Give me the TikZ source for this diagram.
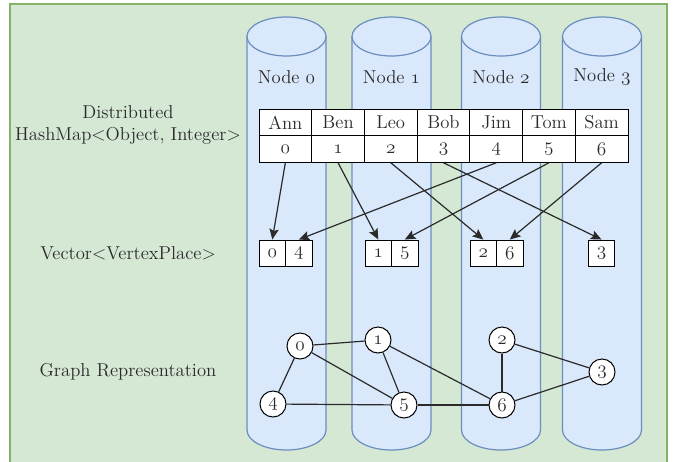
\documentclass[tikz,border=0pt]{standalone}
\usepackage{fontspec}
\usetikzlibrary{arrows.meta}
% old-style digits taken from the math italic font, set a little larger
\newcommand\osn[1]{{\fontsize{15.5}{16.5}\usefont{OML}{lmm}{m}{it}#1}}
\definecolor{panelfill}{HTML}{D5E8D4}
\definecolor{panelline}{HTML}{82B366}
\definecolor{cylfill}{HTML}{DAE8FC}
\definecolor{cylline}{HTML}{6C8EBF}
\definecolor{ink}{HTML}{2A2A2A}
\begin{document}
\begin{tikzpicture}[x=0.75pt,y=-0.75pt,
  every node/.style={font=\fontsize{14}{16.5}\selectfont, text=ink},
  cell/.style={draw=black, fill=white, line width=0.75pt, inner sep=0pt,
    minimum width=39.54pt, minimum height=19.9pt},
  vcell/.style={draw=black, fill=white, line width=0.75pt, inner sep=0pt,
    minimum width=19.9pt, minimum height=20.2pt},
  vert/.style={circle, draw=black, fill=white, line width=0.75pt, inner sep=0pt,
    minimum size=19.5pt},
  link/.style={draw=ink, line width=0.9pt, -{Stealth[length=8pt,width=7pt,inset=1.5pt]}},
  edge/.style={draw=ink, line width=0.9pt},
  cyl/.style={fill=cylfill, draw=cylline, line width=0.9pt}]
\useasboundingbox (0,0) rectangle (678,461);
\clip (0,0) rectangle (678,461);
% panel
\draw[fill=panelfill, draw=panelline, line width=1.2pt] (10,4) rectangle (667,475);
% storage cylinders, one per cluster node
\foreach \cx/\lab in {286.5/0, 391.5/1, 501/2, 602/3} {
  \path[cyl] (\cx-39.5,36.5) -- (\cx-39.5,430)
     arc[start angle=180, end angle=0, x radius=39.5, y radius=20]
     -- (\cx+39.5,36.5) -- cycle;
  \path[cyl] (\cx,36.5) ellipse[x radius=39.5, y radius=19.5];
  \node (cyl\lab) at (\cx,77) {Node \osn{\lab}};
}
% row labels
\node[align=center] (lblmap) at (128,125) {Distributed\\HashMap<Object, Integer>};
\node (lblvec) at (128,253) {Vector<VertexPlace>};
\node (lblgraph) at (128,372) {Graph Representation};
% distributed hash map
\foreach \name [count=\i from 0] in {Ann,Ben,Leo,Bob,Jim,Tom,Sam} {
  \node[cell] (k\i) at ({259+52.714*(\i+0.5)},122.5) {\name};
  \node[cell] (v\i) at ({259+52.714*(\i+0.5)},149) {\osn{\i}};
}
% per-node vertex vectors
\node[vcell] (q0a) at (272.3,253.5) {\osn{0}};
\node[vcell] (q0b) at (298.8,253.5) {\osn{4}};
\node[vcell] (q1a) at (378.3,253.5) {\osn{1}};
\node[vcell] (q1b) at (404.8,253.5) {\osn{5}};
\node[vcell] (q2a) at (483.3,253.5) {\osn{2}};
\node[vcell] (q2b) at (509.8,253.5) {\osn{6}};
\node[vcell] (q3a) at (601.5,253.5) {\osn{3}};
% placement arrows
\draw[link] (v0.south) -- (q0a.north);
\draw[link] (v1.south) -- (q1a.north);
\draw[link] (v2.south) -- (q2a.north);
\draw[link] (v3.south) -- (q3a.north);
\draw[link] (v4.south) -- (q0b.north);
\draw[link] (v5.south) -- (q1b.north);
\draw[link] (v6.south) -- (q2b.north);
% graph
\node[vert] (g0) at (300,346) {\osn{0}};
\node[vert] (g1) at (378,340) {\osn{1}};
\node[vert] (g2) at (502,340) {\osn{2}};
\node[vert] (g3) at (602,372) {\osn{3}};
\node[vert] (g4) at (273,404) {\osn{4}};
\node[vert] (g5) at (404,405) {\osn{5}};
\node[vert] (g6) at (502,405) {\osn{6}};
\draw[edge] (g0) -- (g1);
\draw[edge] (g0) -- (g4);
\draw[edge] (g0) -- (g5);
\draw[edge] (g1) -- (g5);
\draw[edge] (g1) -- (g6);
\draw[edge] (g4) -- (g5);
\draw[edge] (g5) -- (g6);
\draw[edge] (g2) -- (g6);
\draw[edge] (g2) -- (g3);
\draw[edge] (g6) -- (g3);
\end{tikzpicture}
\end{document}
